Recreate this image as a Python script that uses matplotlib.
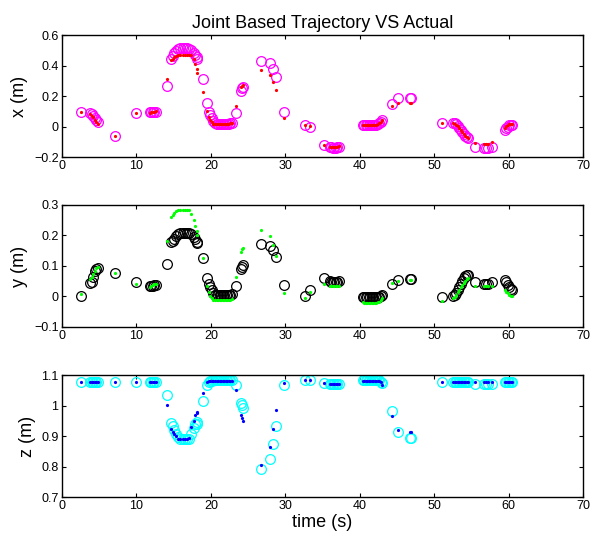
import matplotlib
matplotlib.use('Agg')
import matplotlib.pyplot as plt

plt.rcParams['font.family'] = ['Liberation Sans', 'DejaVu Sans']

# time samples (s), grouped by the clusters in the recording
t = [2.6,
     3.8, 4.0, 4.2, 4.4, 4.6, 4.8,
     7.1,
     10.0,
     11.8, 12.0, 12.2, 12.4, 12.6,
     14.1,
     14.7, 14.9, 15.1, 15.3, 15.6, 15.9, 16.2, 16.5, 16.8, 17.1, 17.4, 17.7, 17.9, 18.1, 18.2,
     18.9,
     19.5, 19.7, 19.9, 20.1, 20.3,
     20.6, 20.8, 21.0, 21.2, 21.4, 21.6, 21.8, 22.0, 22.2, 22.4, 22.6, 22.8,
     23.4,
     24.1, 24.2, 24.3,
     26.8, 27.9, 28.3, 28.7,
     29.8,
     32.6, 33.3,
     35.2, 36.0, 36.2, 36.4, 36.6, 36.8, 37.0, 37.2,
     40.4, 40.6, 40.8, 41.0, 41.2, 41.4, 41.6, 41.8, 42.0, 42.2, 42.4, 42.6, 42.8, 43.0,
     44.4, 45.2, 46.7, 46.9,
     51.0,
     52.6, 52.8, 53.0, 53.2, 53.4, 53.6, 53.8, 54.0, 54.2, 54.4, 54.6,
     55.5, 56.7, 57.0, 57.3, 57.8,
     59.5, 59.7, 59.9, 60.1, 60.3, 60.5]

# actual (circles) and joint based (dots) positions
x_act = [0.097,
         0.09, 0.085, 0.07, 0.055, 0.04, 0.03,
         -0.06,
         0.087,
         0.092, 0.093, 0.093, 0.094, 0.095,
         0.265,
         0.445, 0.46, 0.48, 0.495, 0.51, 0.512, 0.512, 0.512, 0.512, 0.51, 0.505, 0.485, 0.47, 0.455, 0.44,
         0.311,
         0.156, 0.098, 0.075, 0.058, 0.035,
         0.02, 0.017, 0.015, 0.015, 0.015, 0.015, 0.015, 0.015, 0.016, 0.017, 0.02, 0.024,
         0.09,
         0.232, 0.25, 0.262,
         0.43, 0.414, 0.38, 0.327,
         0.097,
         0.01, 0.0,
         -0.12, -0.135, -0.137, -0.138, -0.138, -0.138, -0.137, -0.136,
         0.008, 0.01, 0.01, 0.01, 0.01, 0.01, 0.01, 0.01, 0.011, 0.012, 0.015, 0.02, 0.03, 0.04,
         0.148, 0.185, 0.19, 0.19,
         0.02,
         0.025, 0.022, 0.015, 0.005, -0.008, -0.022, -0.038, -0.05, -0.06, -0.07, -0.078,
         -0.137, -0.14, -0.14, -0.14, -0.137,
         -0.022, -0.011, 0.0, 0.007, 0.011, 0.013]
x_des = [0.095,
         0.085, 0.07, 0.06, 0.045, 0.03, 0.017,
         -0.06,
         0.087,
         0.09, 0.092, 0.095, 0.098, 0.1,
         0.311,
         0.435, 0.445, 0.455, 0.465, 0.472, 0.472, 0.472, 0.472, 0.472, 0.472, 0.47, 0.44, 0.41, 0.38, 0.35,
         0.225,
         0.1, 0.06, 0.045, 0.027, 0.017,
         0.015, 0.014, 0.014, 0.014, 0.014, 0.014, 0.014, 0.015, 0.016, 0.018, 0.021, 0.025,
         0.135,
         0.258, 0.268, 0.275,
         0.37, 0.34, 0.295, 0.24,
         0.054,
         0.012, 0.003,
         -0.118, -0.132, -0.133, -0.133, -0.133, -0.133, -0.132, -0.131,
         0.01, 0.01, 0.01, 0.01, 0.01, 0.01, 0.01, 0.011, 0.012, 0.013, 0.016, 0.02, 0.028, 0.04,
         0.135, 0.152, 0.152, 0.152,
         0.02,
         0.022, 0.018, 0.012, 0.002, -0.01, -0.024, -0.038, -0.05, -0.06, -0.068, -0.075,
         -0.11, -0.113, -0.113, -0.113, -0.1,
         -0.01, 0.004, 0.011, 0.015, 0.016, 0.017]

y_act = [0.0,
         0.044, 0.049, 0.065, 0.082, 0.09, 0.095,
         0.078,
         0.049,
         0.035, 0.036, 0.036, 0.037, 0.038,
         0.107,
         0.178, 0.182, 0.19, 0.197, 0.204, 0.207, 0.207, 0.207, 0.207, 0.207, 0.205, 0.195, 0.188, 0.18, 0.176,
         0.125,
         0.062, 0.04, 0.03, 0.022, 0.011,
         0.006, 0.005, 0.004, 0.004, 0.004, 0.004, 0.004, 0.004, 0.004, 0.005, 0.006, 0.008,
         0.036,
         0.09, 0.098, 0.104,
         0.172, 0.166, 0.153, 0.131,
         0.038,
         0.003, 0.02,
         0.06, 0.05, 0.049, 0.049, 0.049, 0.049, 0.049, 0.05,
         -0.002, -0.003, -0.003, -0.003, -0.003, -0.003, -0.003, -0.003, -0.003, -0.003, -0.002, -0.001, 0.001, 0.004,
         0.041, 0.055, 0.057, 0.057,
         -0.002,
         0.0, 0.005, 0.013, 0.022, 0.032, 0.042, 0.052, 0.06, 0.066, 0.07, 0.071,
         0.046, 0.042, 0.041, 0.042, 0.047,
         0.055, 0.046, 0.038, 0.03, 0.024, 0.02]
y_des = [0.009,
         0.058, 0.065, 0.075, 0.085, 0.093, 0.097,
         0.078,
         0.04,
         0.032, 0.035, 0.038, 0.04, 0.042,
         0.182,
         0.262, 0.268, 0.274, 0.279, 0.283, 0.283, 0.283, 0.283, 0.283, 0.283, 0.27, 0.25, 0.232, 0.215, 0.2,
         0.125,
         0.033, 0.016, 0.002, -0.005, -0.01,
         -0.011, -0.012, -0.012, -0.012, -0.012, -0.012, -0.012, -0.012, -0.012, -0.011, -0.01, -0.008,
         0.063,
         0.147, 0.155, 0.158,
         0.218, 0.198, 0.169, 0.133,
         0.013,
         -0.006, 0.016,
         0.04, 0.036, 0.035, 0.035, 0.035, 0.035, 0.035, 0.036,
         -0.019, -0.02, -0.02, -0.02, -0.02, -0.02, -0.02, -0.02, -0.02, -0.02, -0.019, -0.017, -0.013, -0.005,
         0.044, 0.052, 0.055, 0.055,
         -0.016,
         -0.006, -0.002, 0.006, 0.014, 0.022, 0.03, 0.038, 0.045, 0.052, 0.058, 0.062,
         0.033, 0.033, 0.033, 0.033, 0.036,
         0.022, 0.016, 0.011, 0.006, 0.002, 0.0]

z_act = [1.077,
         1.077, 1.077, 1.077, 1.077, 1.077, 1.077,
         1.077,
         1.077,
         1.077, 1.077, 1.077, 1.077, 1.077,
         1.034,
         0.943, 0.933, 0.92, 0.907, 0.896, 0.889, 0.889, 0.889, 0.889, 0.89, 0.908, 0.925, 0.939, 0.947, 0.94,
         1.015,
         1.067, 1.078, 1.08, 1.081, 1.082,
         1.083, 1.083, 1.083, 1.083, 1.083, 1.083, 1.083, 1.083, 1.083, 1.083, 1.083, 1.083,
         1.068,
         1.009, 1.001, 0.993,
         0.792, 0.824, 0.873, 0.933,
         1.067,
         1.083, 1.083,
         1.074, 1.071, 1.071, 1.071, 1.071, 1.071, 1.071, 1.071,
         1.083, 1.083, 1.083, 1.083, 1.083, 1.083, 1.083, 1.083, 1.083, 1.083, 1.083, 1.083, 1.078, 1.075,
         0.983, 0.912, 0.892, 0.892,
         1.077,
         1.077, 1.077, 1.077, 1.077, 1.077, 1.077, 1.077, 1.077, 1.077, 1.077, 1.077,
         1.071, 1.071, 1.071, 1.071, 1.071,
         1.078, 1.078, 1.078, 1.078, 1.078, 1.078]
z_des = [1.077,
         1.077, 1.077, 1.077, 1.077, 1.077, 1.077,
         1.077,
         1.077,
         1.077, 1.077, 1.077, 1.077, 1.077,
         1.003,
         0.922, 0.914, 0.907, 0.9, 0.89, 0.889, 0.889, 0.889, 0.889, 0.893, 0.93, 0.95, 0.968, 0.976, 0.98,
         1.041,
         1.076, 1.079, 1.08, 1.08, 1.08,
         1.08, 1.08, 1.08, 1.08, 1.08, 1.08, 1.08, 1.08, 1.08, 1.08, 1.08, 1.08,
         1.05,
         0.968, 0.958, 0.95,
         0.805, 0.865, 0.923, 0.985,
         1.075,
         1.083, 1.083,
         1.074, 1.072, 1.072, 1.072, 1.072, 1.072, 1.072, 1.072,
         1.08, 1.08, 1.08, 1.08, 1.08, 1.08, 1.08, 1.08, 1.08, 1.08, 1.08, 1.08, 1.077, 1.066,
         0.965, 0.92, 0.912, 0.912,
         1.077,
         1.077, 1.077, 1.077, 1.077, 1.077, 1.077, 1.077, 1.077, 1.077, 1.077, 1.077,
         1.076, 1.076, 1.076, 1.076, 1.076,
         1.078, 1.078, 1.078, 1.078, 1.078, 1.078]

x_ticks = [0, 10, 20, 30, 40, 50, 60, 70]

panels = [
    # actual, desired, circle colour, dot colour, label, ylim, yticks, tick labels
    (x_act, x_des, '#ff00ff', '#ff0000', 'x (m)', (-0.2, 0.6),
     [-0.2, 0, 0.2, 0.4, 0.6], ['\u22120.2', '0', '0.2', '0.4', '0.6']),
    (y_act, y_des, '#000000', '#00ff00', 'y (m)', (-0.1, 0.3),
     [-0.1, 0, 0.1, 0.2, 0.3], ['\u22120.1', '0', '0.1', '0.2', '0.3']),
    (z_act, z_des, '#00ffff', '#0000ff', 'z (m)', (0.7, 1.1),
     [0.7, 0.8, 0.9, 1.0, 1.1], ['0.7', '0.8', '0.9', '1', '1.1']),
]

fig = plt.figure(figsize=(5.92, 5.42), dpi=100)
bottoms = [0.7103, 0.3967, 0.0830]
axes = []
for (act, des, ccol, dcol, lab, ylim, yt, ytl), b in zip(panels, bottoms):
    ax = fig.add_axes([0.1047, b, 0.880, 0.2251])
    ax.plot(t, act, linestyle='none', marker='o', markersize=7,
            markerfacecolor='none', markeredgecolor=ccol, markeredgewidth=0.9)
    ax.plot(t, des, linestyle='none', marker='o', markersize=2.3,
            markerfacecolor=dcol, markeredgewidth=0)
    ax.set_xlim(0, 70)
    ax.set_ylim(*ylim)
    ax.set_xticks(x_ticks)
    ax.set_yticks(yt)
    ax.set_yticklabels(ytl)
    ax.tick_params(direction='in', top=True, right=True, length=3,
                   width=0.8, labelsize=9, pad=2.5)
    for s in ax.spines.values():
        s.set_linewidth(1.0)
    ax.set_ylabel(lab, fontsize=13, labelpad=4)
    axes.append(ax)

axes[0].set_title('Joint Based Trajectory VS Actual', fontsize=13, pad=5)
axes[2].set_xlabel('time (s)', fontsize=13, labelpad=1)

fig.savefig('out.png', dpi=100)
